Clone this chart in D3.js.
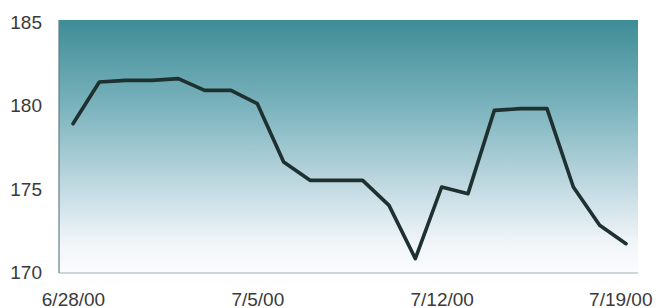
<!DOCTYPE html>
<html>
<head>
<meta charset="utf-8">
<script src="https://cdn.jsdelivr.net/npm/d3@7"></script>
<style>
  body { margin: 0; background: #fff; }
  svg { display: block; }
  .tick text { font-family: "Liberation Sans", Arial, sans-serif; font-size: 19px; fill: #3a3a3a; }
</style>
</head>
<body>
<div id="chart"></div>
<script>
// daily values, 6/28/00 .. 7/19/00
const startDate = '2000-06-28'
const values = [178.9, 181.4, 181.5, 181.5, 181.6, 180.9, 180.9, 180.1, 176.6, 175.5, 175.5,
    175.5, 174.0, 170.8, 175.1, 174.7, 179.7, 179.8, 179.8, 175.1, 172.8, 171.7]
const yTicks = [170, 175, 180, 185]
const xTickDates = ['2000-06-28', '2000-07-05', '2000-07-12', '2000-07-19']

const width = 659
const height = 308
const plot = {left: 59, right: 638, top: 20, bottom: 273}

const parse = d3.timeParse('%Y-%m-%d')
const t0 = parse(startDate)
const data = values.map((v, i) => ({date: d3.timeDay.offset(t0, i), value: v}))

const x = d3.scaleTime()
    .domain(d3.extent(data, d => d.date))
    .range([73, 626])
const y = d3.scaleLinear()
    .domain([170, 185])
    .range([272, 22])

const svg = d3.select('#chart').append('svg')
    .attr('width', width)
    .attr('height', height)

const defs = svg.append('defs')
const grad = defs.append('linearGradient')
    .attr('id', 'bg')
    .attr('x1', 0).attr('y1', 0).attr('x2', 0).attr('y2', 1)
grad.append('stop').attr('offset', '0%').attr('stop-color', '#3e8c96')
grad.append('stop').attr('offset', '35%').attr('stop-color', '#7cb4be')
grad.append('stop').attr('offset', '68%').attr('stop-color', '#c6dce4')
grad.append('stop').attr('offset', '88%').attr('stop-color', '#f1f5f9')
grad.append('stop').attr('offset', '100%').attr('stop-color', '#fbfcfd')

// plot area
svg.append('rect')
    .attr('x', plot.left)
    .attr('y', plot.top)
    .attr('width', plot.right - plot.left)
    .attr('height', plot.bottom - plot.top)
    .attr('fill', 'url(#bg)')

// left and bottom edges
svg.append('line')
    .attr('x1', plot.left).attr('x2', plot.left)
    .attr('y1', plot.top).attr('y2', plot.bottom)
    .attr('stroke', '#5f7f84').attr('stroke-width', 1.2)
svg.append('line')
    .attr('x1', plot.left).attr('x2', plot.right)
    .attr('y1', plot.bottom).attr('y2', plot.bottom)
    .attr('stroke', '#9aaeb2').attr('stroke-width', 1.2)

// y axis labels
const yAxis = d3.axisLeft(y)
    .tickValues(yTicks)
    .tickSize(0)
    .tickPadding(0)
svg.append('g')
    .attr('transform', 'translate(42,0)')
    .call(yAxis)
    .call(g => g.select('.domain').remove())
    .selectAll('text')
    .attr('dy', '0.35em')

// x axis labels
const xAxis = d3.axisBottom(x)
    .tickValues(xTickDates.map(parse))
    .tickFormat(d3.timeFormat('%-m/%-d/00'))
    .tickSize(0)
    .tickPadding(0)
const gx = svg.append('g')
    .attr('transform', 'translate(0,292)')
    .call(xAxis)
gx.select('.domain').remove()
gx.selectAll('text')
    .attr('dy', '0.71em')
    .attr('text-anchor', (d, i, n) => i === n.length - 1 ? 'end' : 'middle')
    .attr('x', (d, i, n) => i === n.length - 1 ? 652 - x(d) : 0)

// the line
const line = d3.line()
    .x(d => x(d.date))
    .y(d => y(d.value))

svg.append('path')
    .datum(data)
    .attr('d', line)
    .attr('fill', 'none')
    .attr('stroke', '#1e302f')
    .attr('stroke-width', 3.6)
    .attr('stroke-linejoin', 'round')
    .attr('stroke-linecap', 'round')
</script>
</body>
</html>
